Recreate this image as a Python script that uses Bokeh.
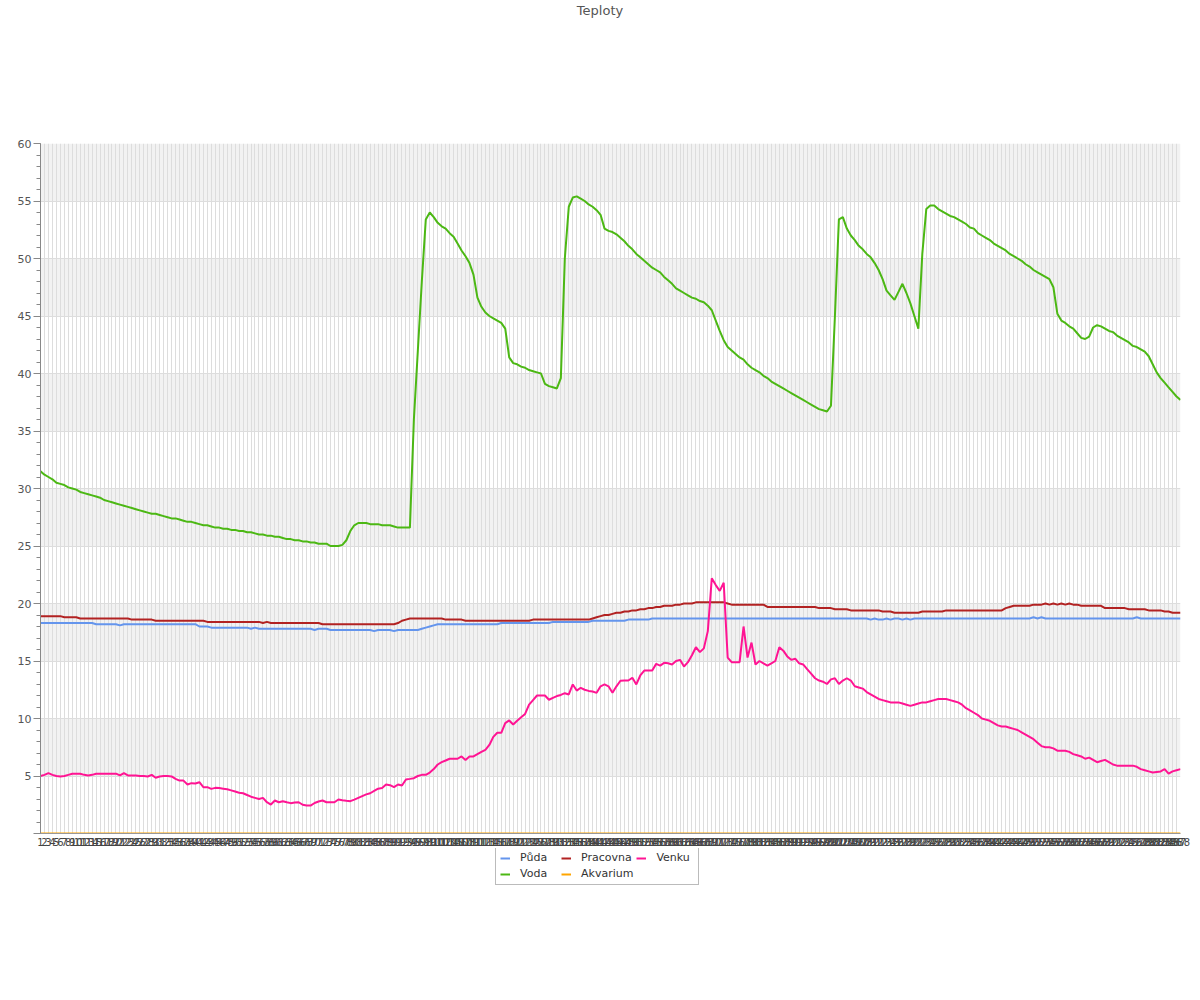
from bokeh.plotting import figure
from bokeh.models import Range1d, FixedTicker, Legend, LegendItem, Div
from bokeh.layouts import column
from bokeh.embed import file_html
from bokeh.resources import INLINE

x = list(range(1, 289))
x_labels = [str(i) for i in x]
y_ticks = [0, 5, 10, 15, 20, 25, 30, 35, 40, 45, 50, 55, 60]
y_labels = ["", "5", "10", "15", "20", "25", "30", "35", "40", "45", "50", "55", "60"]
title_text = "Teploty"

puda = [
    18.3, 18.3, 18.3, 18.3, 18.3, 18.3, 18.3, 18.3, 18.3, 18.3,
    18.3, 18.3, 18.3, 18.3, 18.2, 18.2, 18.2, 18.2, 18.2, 18.2,
    18.1, 18.2, 18.2, 18.2, 18.2, 18.2, 18.2, 18.2, 18.2, 18.2,
    18.2, 18.2, 18.2, 18.2, 18.2, 18.2, 18.2, 18.2, 18.2, 18.2,
    18.0, 18.0, 18.0, 17.9, 17.9, 17.9, 17.9, 17.9, 17.9, 17.9,
    17.9, 17.9, 17.9, 17.8, 17.9, 17.8, 17.8, 17.8, 17.8, 17.8,
    17.8, 17.8, 17.8, 17.8, 17.8, 17.8, 17.8, 17.8, 17.8, 17.7,
    17.8, 17.8, 17.8, 17.7, 17.7, 17.7, 17.7, 17.7, 17.7, 17.7,
    17.7, 17.7, 17.7, 17.7, 17.6, 17.7, 17.7, 17.7, 17.7, 17.6,
    17.7, 17.7, 17.7, 17.7, 17.7, 17.7, 17.8, 17.9, 18.0, 18.1,
    18.2, 18.2, 18.2, 18.2, 18.2, 18.2, 18.2, 18.2, 18.2, 18.2,
    18.2, 18.2, 18.2, 18.2, 18.2, 18.2, 18.3, 18.3, 18.3, 18.3,
    18.3, 18.3, 18.3, 18.3, 18.3, 18.3, 18.3, 18.3, 18.3, 18.4,
    18.4, 18.4, 18.4, 18.4, 18.4, 18.4, 18.4, 18.4, 18.4, 18.5,
    18.5, 18.5, 18.5, 18.5, 18.5, 18.5, 18.5, 18.5, 18.6, 18.6,
    18.6, 18.6, 18.6, 18.6, 18.7, 18.7, 18.7, 18.7, 18.7, 18.7,
    18.7, 18.7, 18.7, 18.7, 18.7, 18.7, 18.7, 18.7, 18.7, 18.7,
    18.7, 18.7, 18.7, 18.7, 18.7, 18.7, 18.7, 18.7, 18.7, 18.7,
    18.7, 18.7, 18.7, 18.7, 18.7, 18.7, 18.7, 18.7, 18.7, 18.7,
    18.7, 18.7, 18.7, 18.7, 18.7, 18.7, 18.7, 18.7, 18.7, 18.7,
    18.7, 18.7, 18.7, 18.7, 18.7, 18.7, 18.7, 18.7, 18.7, 18.6,
    18.7, 18.6, 18.6, 18.7, 18.6, 18.7, 18.7, 18.6, 18.7, 18.6,
    18.7, 18.7, 18.7, 18.7, 18.7, 18.7, 18.7, 18.7, 18.7, 18.7,
    18.7, 18.7, 18.7, 18.7, 18.7, 18.7, 18.7, 18.7, 18.7, 18.7,
    18.7, 18.7, 18.7, 18.7, 18.7, 18.7, 18.7, 18.7, 18.7, 18.7,
    18.8, 18.7, 18.8, 18.7, 18.7, 18.7, 18.7, 18.7, 18.7, 18.7,
    18.7, 18.7, 18.7, 18.7, 18.7, 18.7, 18.7, 18.7, 18.7, 18.7,
    18.7, 18.7, 18.7, 18.7, 18.7, 18.7, 18.8, 18.7, 18.7, 18.7,
    18.7, 18.7, 18.7, 18.7, 18.7, 18.7, 18.7, 18.7,
]

voda = [
    31.5, 31.2, 31.0, 30.8, 30.5, 30.4, 30.3, 30.1, 30.0, 29.9,
    29.7, 29.6, 29.5, 29.4, 29.3, 29.2, 29.0, 28.9, 28.8, 28.7,
    28.6, 28.5, 28.4, 28.3, 28.2, 28.1, 28.0, 27.9, 27.8, 27.8,
    27.7, 27.6, 27.5, 27.4, 27.4, 27.3, 27.2, 27.1, 27.1, 27.0,
    26.9, 26.8, 26.8, 26.7, 26.6, 26.6, 26.5, 26.5, 26.4, 26.4,
    26.3, 26.3, 26.2, 26.2, 26.1, 26.0, 26.0, 25.9, 25.9, 25.8,
    25.8, 25.7, 25.6, 25.6, 25.5, 25.5, 25.4, 25.4, 25.3, 25.3,
    25.2, 25.2, 25.2, 25.0, 25.0, 25.0, 25.1, 25.5, 26.3, 26.8,
    27.0, 27.0, 27.0, 26.9, 26.9, 26.9, 26.8, 26.8, 26.8, 26.7,
    26.6, 26.6, 26.6, 26.6, 36.0, 42.0, 48.0, 53.4, 54.0, 53.6,
    53.1, 52.8, 52.6, 52.2, 51.9, 51.3, 50.7, 50.2, 49.6, 48.6,
    46.6, 45.8, 45.3, 45.0, 44.8, 44.6, 44.4, 43.9, 41.4, 40.9,
    40.8, 40.6, 40.5, 40.3, 40.2, 40.1, 40.0, 39.1, 38.9, 38.8,
    38.7, 39.6, 50.0, 54.5, 55.3, 55.4, 55.2, 55.0, 54.7, 54.5,
    54.2, 53.8, 52.6, 52.4, 52.3, 52.1, 51.8, 51.5, 51.1, 50.8,
    50.4, 50.1, 49.8, 49.5, 49.2, 49.0, 48.8, 48.4, 48.1, 47.8,
    47.4, 47.2, 47.0, 46.8, 46.6, 46.5, 46.3, 46.2, 45.9, 45.5,
    44.6, 43.7, 42.9, 42.3, 42.0, 41.7, 41.4, 41.2, 40.8, 40.5,
    40.3, 40.1, 39.8, 39.6, 39.3, 39.1, 38.9, 38.7, 38.5, 38.3,
    38.1, 37.9, 37.7, 37.5, 37.3, 37.1, 36.9, 36.8, 36.7, 37.2,
    45.0, 53.4, 53.6, 52.6, 52.0, 51.6, 51.1, 50.8, 50.4, 50.1,
    49.6, 49.0, 48.2, 47.2, 46.8, 46.4, 47.1, 47.8, 47.0, 46.1,
    45.0, 43.9, 50.4, 54.3, 54.6, 54.6, 54.3, 54.1, 53.9, 53.7,
    53.6, 53.4, 53.2, 53.0, 52.7, 52.6, 52.2, 52.0, 51.8, 51.6,
    51.3, 51.1, 50.9, 50.7, 50.4, 50.2, 50.0, 49.8, 49.5, 49.3,
    49.0, 48.8, 48.6, 48.4, 48.2, 47.5, 45.2, 44.6, 44.4, 44.1,
    43.9, 43.5, 43.1, 43.0, 43.2, 44.0, 44.2, 44.1, 43.9, 43.7,
    43.6, 43.3, 43.1, 42.9, 42.7, 42.4, 42.3, 42.1, 41.9, 41.5,
    40.8, 40.1, 39.6, 39.2, 38.8, 38.4, 38.0, 37.7,
]

pracovna = [
    18.9, 18.9, 18.9, 18.9, 18.9, 18.9, 18.8, 18.8, 18.8, 18.8,
    18.7, 18.7, 18.7, 18.7, 18.7, 18.7, 18.7, 18.7, 18.7, 18.7,
    18.7, 18.7, 18.7, 18.6, 18.6, 18.6, 18.6, 18.6, 18.6, 18.5,
    18.5, 18.5, 18.5, 18.5, 18.5, 18.5, 18.5, 18.5, 18.5, 18.5,
    18.5, 18.5, 18.4, 18.4, 18.4, 18.4, 18.4, 18.4, 18.4, 18.4,
    18.4, 18.4, 18.4, 18.4, 18.4, 18.4, 18.3, 18.4, 18.3, 18.3,
    18.3, 18.3, 18.3, 18.3, 18.3, 18.3, 18.3, 18.3, 18.3, 18.3,
    18.3, 18.2, 18.2, 18.2, 18.2, 18.2, 18.2, 18.2, 18.2, 18.2,
    18.2, 18.2, 18.2, 18.2, 18.2, 18.2, 18.2, 18.2, 18.2, 18.2,
    18.3, 18.5, 18.6, 18.7, 18.7, 18.7, 18.7, 18.7, 18.7, 18.7,
    18.7, 18.7, 18.6, 18.6, 18.6, 18.6, 18.6, 18.5, 18.5, 18.5,
    18.5, 18.5, 18.5, 18.5, 18.5, 18.5, 18.5, 18.5, 18.5, 18.5,
    18.5, 18.5, 18.5, 18.5, 18.6, 18.6, 18.6, 18.6, 18.6, 18.6,
    18.6, 18.6, 18.6, 18.6, 18.6, 18.6, 18.6, 18.6, 18.6, 18.7,
    18.8, 18.9, 19.0, 19.0, 19.1, 19.2, 19.2, 19.3, 19.3, 19.4,
    19.4, 19.5, 19.5, 19.6, 19.6, 19.7, 19.7, 19.8, 19.8, 19.8,
    19.9, 19.9, 20.0, 20.0, 20.0, 20.1, 20.1, 20.1, 20.1, 20.1,
    20.1, 20.1, 20.1, 20.0, 19.9, 19.9, 19.9, 19.9, 19.9, 19.9,
    19.9, 19.9, 19.9, 19.7, 19.7, 19.7, 19.7, 19.7, 19.7, 19.7,
    19.7, 19.7, 19.7, 19.7, 19.7, 19.7, 19.6, 19.6, 19.6, 19.6,
    19.5, 19.5, 19.5, 19.5, 19.4, 19.4, 19.4, 19.4, 19.4, 19.4,
    19.4, 19.4, 19.3, 19.3, 19.3, 19.2, 19.2, 19.2, 19.2, 19.2,
    19.2, 19.2, 19.3, 19.3, 19.3, 19.3, 19.3, 19.3, 19.4, 19.4,
    19.4, 19.4, 19.4, 19.4, 19.4, 19.4, 19.4, 19.4, 19.4, 19.4,
    19.4, 19.4, 19.4, 19.6, 19.7, 19.8, 19.8, 19.8, 19.8, 19.8,
    19.9, 19.9, 19.9, 20.0, 19.9, 20.0, 19.9, 20.0, 19.9, 20.0,
    19.9, 19.9, 19.8, 19.8, 19.8, 19.8, 19.8, 19.8, 19.6, 19.6,
    19.6, 19.6, 19.6, 19.6, 19.5, 19.5, 19.5, 19.5, 19.5, 19.4,
    19.4, 19.4, 19.4, 19.3, 19.3, 19.2, 19.2, 19.2,
]

akvarium = [
    0.0, 0.0, 0.0, 0.0, 0.0, 0.0, 0.0, 0.0, 0.0, 0.0,
    0.0, 0.0, 0.0, 0.0, 0.0, 0.0, 0.0, 0.0, 0.0, 0.0,
    0.0, 0.0, 0.0, 0.0, 0.0, 0.0, 0.0, 0.0, 0.0, 0.0,
    0.0, 0.0, 0.0, 0.0, 0.0, 0.0, 0.0, 0.0, 0.0, 0.0,
    0.0, 0.0, 0.0, 0.0, 0.0, 0.0, 0.0, 0.0, 0.0, 0.0,
    0.0, 0.0, 0.0, 0.0, 0.0, 0.0, 0.0, 0.0, 0.0, 0.0,
    0.0, 0.0, 0.0, 0.0, 0.0, 0.0, 0.0, 0.0, 0.0, 0.0,
    0.0, 0.0, 0.0, 0.0, 0.0, 0.0, 0.0, 0.0, 0.0, 0.0,
    0.0, 0.0, 0.0, 0.0, 0.0, 0.0, 0.0, 0.0, 0.0, 0.0,
    0.0, 0.0, 0.0, 0.0, 0.0, 0.0, 0.0, 0.0, 0.0, 0.0,
    0.0, 0.0, 0.0, 0.0, 0.0, 0.0, 0.0, 0.0, 0.0, 0.0,
    0.0, 0.0, 0.0, 0.0, 0.0, 0.0, 0.0, 0.0, 0.0, 0.0,
    0.0, 0.0, 0.0, 0.0, 0.0, 0.0, 0.0, 0.0, 0.0, 0.0,
    0.0, 0.0, 0.0, 0.0, 0.0, 0.0, 0.0, 0.0, 0.0, 0.0,
    0.0, 0.0, 0.0, 0.0, 0.0, 0.0, 0.0, 0.0, 0.0, 0.0,
    0.0, 0.0, 0.0, 0.0, 0.0, 0.0, 0.0, 0.0, 0.0, 0.0,
    0.0, 0.0, 0.0, 0.0, 0.0, 0.0, 0.0, 0.0, 0.0, 0.0,
    0.0, 0.0, 0.0, 0.0, 0.0, 0.0, 0.0, 0.0, 0.0, 0.0,
    0.0, 0.0, 0.0, 0.0, 0.0, 0.0, 0.0, 0.0, 0.0, 0.0,
    0.0, 0.0, 0.0, 0.0, 0.0, 0.0, 0.0, 0.0, 0.0, 0.0,
    0.0, 0.0, 0.0, 0.0, 0.0, 0.0, 0.0, 0.0, 0.0, 0.0,
    0.0, 0.0, 0.0, 0.0, 0.0, 0.0, 0.0, 0.0, 0.0, 0.0,
    0.0, 0.0, 0.0, 0.0, 0.0, 0.0, 0.0, 0.0, 0.0, 0.0,
    0.0, 0.0, 0.0, 0.0, 0.0, 0.0, 0.0, 0.0, 0.0, 0.0,
    0.0, 0.0, 0.0, 0.0, 0.0, 0.0, 0.0, 0.0, 0.0, 0.0,
    0.0, 0.0, 0.0, 0.0, 0.0, 0.0, 0.0, 0.0, 0.0, 0.0,
    0.0, 0.0, 0.0, 0.0, 0.0, 0.0, 0.0, 0.0, 0.0, 0.0,
    0.0, 0.0, 0.0, 0.0, 0.0, 0.0, 0.0, 0.0, 0.0, 0.0,
    0.0, 0.0, 0.0, 0.0, 0.0, 0.0, 0.0, 0.0,
]

venku = [
    5.0, 5.1, 5.25, 5.1, 5.0, 4.96, 5.0, 5.1, 5.2, 5.2,
    5.2, 5.1, 5.05, 5.1, 5.2, 5.2, 5.2, 5.2, 5.2, 5.2,
    5.05, 5.25, 5.05, 5.05, 5.05, 5.0, 5.0, 4.96, 5.1, 4.85,
    4.96, 5.0, 5.0, 4.96, 4.75, 4.6, 4.6, 4.26, 4.38, 4.35,
    4.46, 4.03, 4.03, 3.88, 3.97, 3.95, 3.9, 3.85, 3.75, 3.65,
    3.55, 3.5, 3.35, 3.2, 3.1, 3.0, 3.1, 2.72, 2.52, 2.87,
    2.72, 2.81, 2.72, 2.64, 2.7, 2.72, 2.5, 2.43, 2.43, 2.65,
    2.78, 2.87, 2.72, 2.72, 2.72, 2.96, 2.9, 2.85, 2.81, 2.95,
    3.1, 3.25, 3.4, 3.5, 3.7, 3.9, 3.95, 4.26, 4.2, 4.03,
    4.26, 4.17, 4.7, 4.75, 4.81, 5.0, 5.1, 5.1, 5.3, 5.6,
    6.0, 6.2, 6.35, 6.5, 6.5, 6.5, 6.7, 6.4, 6.7, 6.7,
    6.9, 7.1, 7.28, 7.7, 8.4, 8.76, 8.76, 9.6, 9.83, 9.48,
    9.8, 10.1, 10.4, 11.2, 11.6, 12.0, 12.0, 12.0, 11.63, 11.8,
    11.95, 12.05, 12.2, 12.09, 12.96, 12.43, 12.67, 12.5, 12.4, 12.35,
    12.23, 12.8, 12.96, 12.8, 12.23, 12.8, 13.28, 13.3, 13.3, 13.54,
    12.96, 13.74, 14.17, 14.17, 14.17, 14.75, 14.6, 14.84, 14.8, 14.7,
    15.0, 15.1, 14.52, 14.9, 15.5, 16.2, 15.77, 16.1, 17.6, 22.2,
    21.6, 21.1, 21.8, 15.3, 14.9, 14.9, 14.9, 18.0, 15.3, 16.6,
    14.7, 15.0, 14.8, 14.6, 14.8, 15.0, 16.2, 15.9, 15.4, 15.1,
    15.2, 14.8, 14.7, 14.3, 13.9, 13.5, 13.3, 13.2, 13.0, 13.4,
    13.5, 13.0, 13.3, 13.5, 13.3, 12.8, 12.7, 12.6, 12.3, 12.1,
    11.9, 11.7, 11.6, 11.5, 11.4, 11.4, 11.4, 11.3, 11.2, 11.1,
    11.2, 11.3, 11.4, 11.4, 11.5, 11.6, 11.7, 11.7, 11.7, 11.6,
    11.5, 11.4, 11.2, 10.9, 10.7, 10.5, 10.3, 10.0, 9.9, 9.8,
    9.6, 9.4, 9.3, 9.3, 9.2, 9.1, 9.0, 8.8, 8.6, 8.4,
    8.2, 7.9, 7.6, 7.5, 7.5, 7.4, 7.2, 7.2, 7.2, 7.1,
    6.9, 6.8, 6.7, 6.5, 6.6, 6.4, 6.2, 6.3, 6.4, 6.2,
    6.0, 5.9, 5.9, 5.9, 5.9, 5.9, 5.8, 5.6, 5.5, 5.4,
    5.3, 5.35, 5.4, 5.6, 5.2, 5.4, 5.5, 5.6,
]

series_names = ["Půda", "Voda", "Pracovna", "Akvarium", "Venku"]
series_values = [puda, voda, pracovna, akvarium, venku]
series_colors = ["#6495ed", "#4cb814", "#b22222", "#ffa500", "#ff1493"]

for name, vals in zip(series_names, series_values):
    if len(vals) != len(x):
        raise ValueError(f"{name}: {len(vals)} values")

FONT = "DejaVu Sans"

title_div = Div(text=title_text, width=1195, height=20, margin=0,
                styles={"text-align": "center", "font-size": "13px", "color": "#555555",
                        "font-family": "DejaVu Sans", "padding-top": "2px",
                        "padding-left": "5px"})

p = figure(frame_width=1140, frame_height=690, output_backend="svg", toolbar_location=None,
           title=None, x_range=Range1d(1, 288), y_range=Range1d(0, 60),
           min_border_left=40, min_border_right=15,
           min_border_top=123, min_border_bottom=0, margin=0)
p.outline_line_color = None
p.background_fill_color = "white"
p.border_fill_color = "white"

for name, vals, col in zip(series_names, series_values, series_colors):
    p.line(x, vals, line_width=2, line_color=col)

# x axis
p.xaxis.ticker = FixedTicker(ticks=x, minor_ticks=[])
p.xaxis.major_label_overrides = {xi: lab for xi, lab in zip(x, x_labels)}
p.xaxis.major_label_text_font = FONT
p.xaxis.major_label_text_font_size = "10px"
p.xaxis.major_label_text_color = "#444444"
p.xaxis.major_tick_out = 0
p.xaxis.major_tick_in = 0
p.xaxis.minor_tick_out = 0
p.xaxis.major_label_standoff = 4
p.xaxis.axis_line_color = "#999999"

# y axis
p.yaxis.ticker = FixedTicker(ticks=y_ticks, minor_ticks=list(range(0, 61)))
p.yaxis.major_label_overrides = {t: lab for t, lab in zip(y_ticks, y_labels)}
p.yaxis.major_label_text_font = FONT
p.yaxis.major_label_text_font_size = "11px"
p.yaxis.major_label_text_color = "#555555"
p.yaxis.major_tick_out = 7
p.yaxis.major_tick_in = 0
p.yaxis.minor_tick_out = 4
p.yaxis.minor_tick_in = 0
p.yaxis.major_tick_line_color = "#888888"
p.yaxis.minor_tick_line_color = "#888888"
p.yaxis.axis_line_color = "#888888"
p.yaxis.major_label_standoff = 2

# grids
p.ygrid.level = "image"
p.xgrid.grid_line_color = "#dddddd"
p.ygrid.grid_line_color = "#dddddd"
p.ygrid.band_fill_color = "#f2f2f2"
p.ygrid.band_fill_alpha = 1.0

# legend figure (same borders as the chart so the column keeps it aligned);
# the series are drawn outside its visible range, only the legend shows
pl = figure(frame_width=1140, frame_height=44, output_backend="svg", toolbar_location=None,
            title=None, x_axis_type=None, y_axis_type=None,
            x_range=Range1d(-1000, -999), y_range=Range1d(-1000, -999),
            min_border_left=40, min_border_right=15, min_border_top=0, min_border_bottom=0,
            margin=0)
pl.outline_line_color = None
pl.grid.visible = False
pl.background_fill_color = "white"
pl.border_fill_color = "white"
leg_renderers = []
for name, vals, col in zip(series_names, series_values, series_colors):
    leg_renderers.append(pl.line(x, vals, line_width=2, line_color=col))

items = [LegendItem(label=series_names[i], renderers=[leg_renderers[i]]) for i in range(5)]
legend = Legend(items=items, orientation="vertical", nrows=2,
                location=(455, 7), margin=0, padding=4, spacing=3,
                glyph_width=10, glyph_height=12, label_standoff=10,
                label_height=13, label_width=38,
                label_text_font=FONT, label_text_font_size="11px",
                label_text_color="#333333",
                border_line_color="#777777", border_line_width=1,
                background_fill_color="white", background_fill_alpha=1.0)
pl.add_layout(legend, "center")

layout = column(title_div, p, pl, spacing=0)
open("out.html", "w").write(file_html(layout, INLINE))
